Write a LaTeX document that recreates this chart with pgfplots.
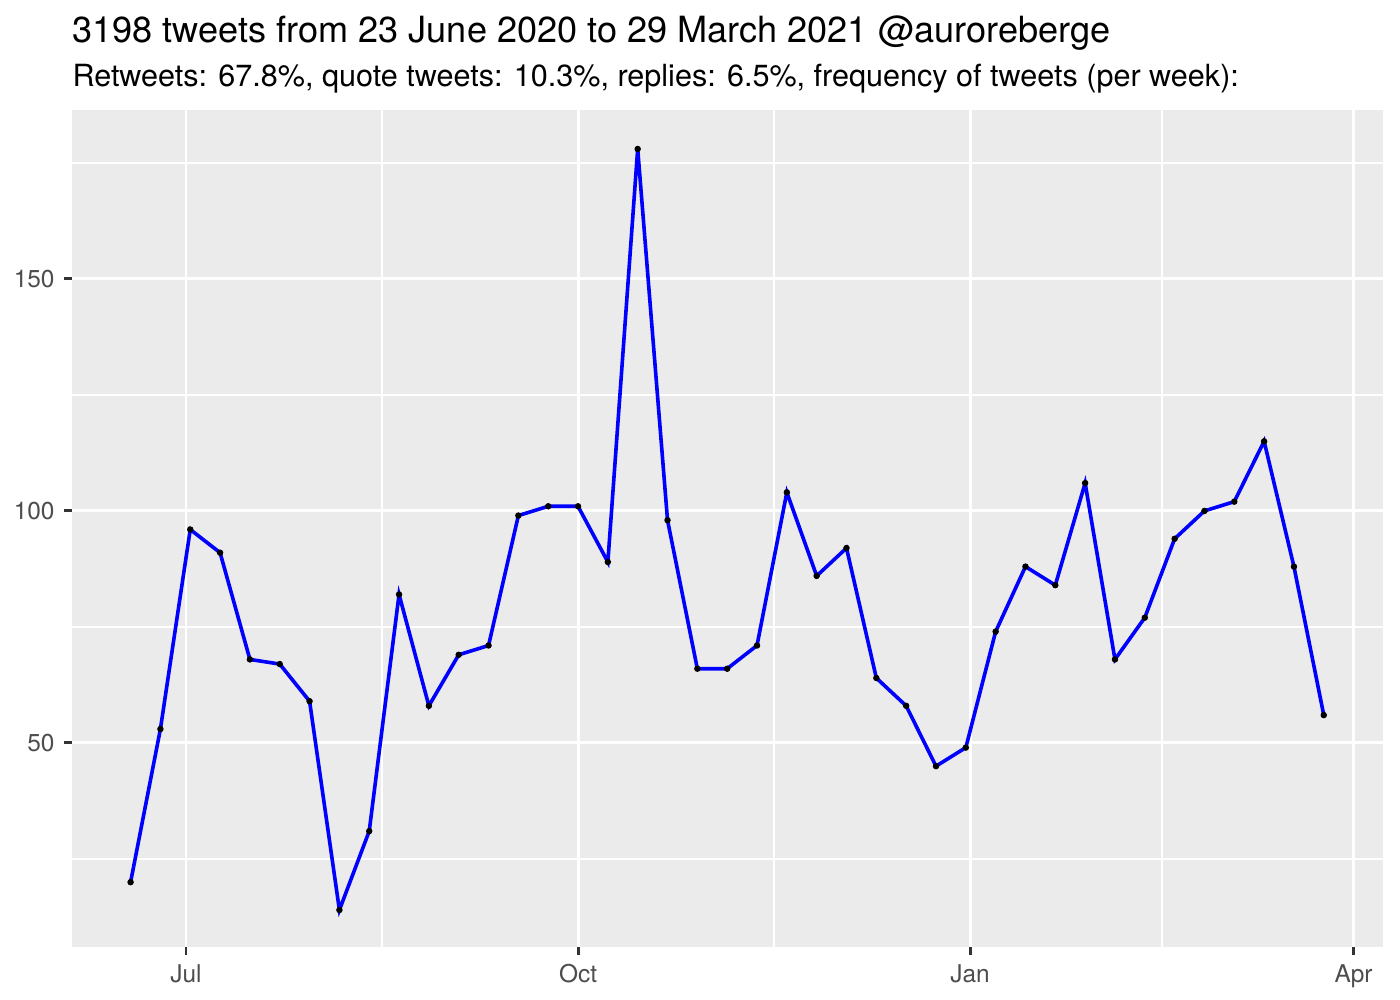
\documentclass[border=0pt]{standalone}
\usepackage{fontspec}
\setmainfont{TeX Gyre Heros}
\usepackage{pgfplots}
\pgfplotsset{compat=1.18}
\usepackage{pgfplotstable}
\usepackage{tikz}
\definecolor{panelbg}{HTML}{EBEBEB}
\definecolor{ticktext}{HTML}{4D4D4D}
\definecolor{tickline}{HTML}{333333}

% x = days since 1 July 2020, y = tweets per week
\pgfplotstableread{
day n
-13 20
-6 53
1 96
8 91
15 68
22 67
29 59
36 14
43 31
50 82
57 58
64 69
71 71
78 99
85 101
92 101
99 89
106 178
113 98
120 66
127 66
134 71
141 104
148 86
155 92
162 64
169 58
176 45
183 49
190 74
197 88
204 84
211 106
218 68
225 77
232 94
239 100
246 102
253 115
260 88
267 56
}\weekly

\begin{document}
\begin{tikzpicture}
  \useasboundingbox (-25.92bp,-19.08bp) rectangle (478.08bp,340.92bp);
  \begin{axis}[
      at={(0,0)}, anchor=south west,
      scale only axis,
      width=471.96bp, height=301.32bp,
      xmin=-26.75, xmax=280.9, ymin=6.03, ymax=186.4,
      axis background/.style={fill=panelbg},
      axis line style={draw=none},
      xtick={0,92,184,274},
      xticklabels={Jul,Oct,Jan,Apr},
      minor xtick={46,138,229},
      ytick={50,100,150},
      minor ytick={25,75,125,175},
      grid=both,
      major grid style={draw=white, line width=1.07bp},
      minor grid style={draw=white, line width=0.53bp},
      tick align=outside,
      tick pos=left,
      major tick length=2.75bp,
      minor tick length=0pt,
      every tick/.style={draw=tickline, line width=1.07bp},
      tick label style={font=\fontsize{8.8bp}{10bp}\selectfont, text=ticktext},
      /pgf/number format/assume math mode=true,
      clip=false,
  ]
  \addplot[only marks, mark=*, mark size=0.95bp,
      mark options={draw=black, fill=black}] table[x=day, y=n] {\weekly};
  \addplot[color=blue, line width=1.3bp, no marks] table[x=day, y=n] {\weekly};
  \end{axis}
  \node[anchor=base west, inner sep=0pt, font=\fontsize{13bp}{15bp}\selectfont]
      at (0bp,325.44bp) {3198 tweets from 23 June 2020 to 29 March 2021 @auroreberge};
  \node[anchor=base west, inner sep=0pt, font=\fontsize{11bp}{13bp}\selectfont]
      at (0bp,309.6bp) {Retweets: 67.8\%, quote tweets: 10.3\%, replies: 6.5\%, frequency of tweets (per week):};
\end{tikzpicture}
\end{document}
